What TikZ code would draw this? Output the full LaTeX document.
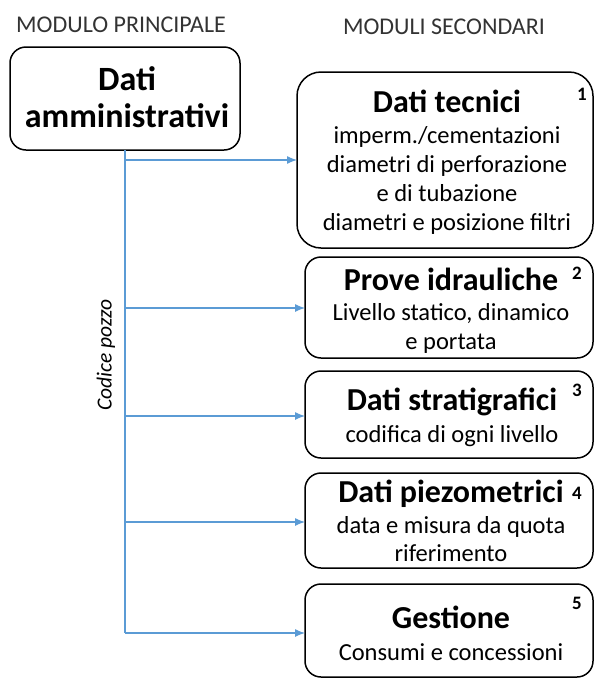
\documentclass[tikz,border=0pt]{standalone}
\usepackage{fontspec}
\setmainfont{Carlito}
\usetikzlibrary{arrows.meta}
\definecolor{linkblue}{RGB}{91,155,213}
\begin{document}
\begin{tikzpicture}[x=1pt,y=-1pt,
  box/.style={draw=black,line width=1.5pt,rounded corners=16pt},
  ttl/.style={font=\fontsize{32}{36}\selectfont\bfseries,anchor=base,inner sep=0pt},
  body/.style={font=\fontsize{24.5}{29}\selectfont,anchor=base,inner sep=0pt},
  hdr/.style={font=\fontsize{24}{28}\selectfont,text=black!80,anchor=base,inner sep=0pt},
  num/.style={font=\fontsize{19}{21}\selectfont\bfseries},
  link/.style={draw=linkblue,line width=1.2pt},
  arr/.style={link,-{Latex[length=10pt,width=8pt]}}]
\useasboundingbox (0,0) rectangle (595,678);
\node[hdr] (h1) at (121,32) {MODULO PRINCIPALE};
\node[hdr] (h2) at (444,34) {MODULI SECONDARI};
% main box
\draw[box] (10,47) rectangle (240,150);
\node[font=\fontsize{34}{37}\selectfont\bfseries,anchor=base,inner sep=0pt] (m1) at (127,90) {Dati};
\node[font=\fontsize{34}{37}\selectfont\bfseries,anchor=base,inner sep=0pt] (m2) at (127,127) {amministrativi};
\coordinate (mb) at (125,150);
% box 1
\draw[box,rounded corners=24pt] (297,72) rectangle (593,248);
\node[ttl] (t1) at (447,112) {Dati tecnici};
\node[body] (b1a) at (447,143) {imperm./cementazioni};
\node[body] (b1b) at (447,172) {diametri di perforazione};
\node[body] (b1c) at (447,201) {e di tubazione};
\node[body] (b1d) at (447,230) {diametri e posizione filtri};
\node[num] (n1) at (582,94) {1};
% box 2
\draw[box] (305,257) rectangle (593,358);
\node[ttl] (t2) at (451,290) {Prove idrauliche};
\node[body] (b2a) at (451,320) {Livello statico, dinamico};
\node[body] (b2b) at (451,349) {e portata};
\node[num] (n2) at (577,273) {2};
% box 3
\draw[box] (305,371) rectangle (593,458);
\node[ttl] (t3) at (452,410) {Dati stratigrafici};
\node[body] (b3a) at (452,442) {codifica di ogni livello};
\node[num] (n3) at (577,390) {3};
% box 4
\draw[box] (305,473) rectangle (593,568);
\node[ttl] (t4) at (451,502) {Dati piezometrici};
\node[body] (b4a) at (451,533) {data e misura da quota};
\node[body] (b4b) at (451,561) {riferimento};
\node[num] (n4) at (577,493) {4};
% box 5
\draw[box] (305,584) rectangle (593,677);
\node[ttl] (t5) at (451,628) {Gestione};
\node[body] (b5a) at (451,660) {Consumi e concessioni};
\node[num] (n5) at (577,603) {5};
% connectors
\coordinate (c1) at (125,160);
\coordinate (c2) at (125,308);
\coordinate (c3) at (125,416);
\coordinate (c4) at (125,522);
\coordinate (c5) at (125,633);
\coordinate (e1) at (297,160);
\coordinate (e2) at (305,308);
\coordinate (e3) at (305,416);
\coordinate (e4) at (305,522);
\coordinate (e5) at (305,633);
\draw[link] (mb) -- (c5);
\draw[arr] (c1) -- (e1);
\draw[arr] (c2) -- (e2);
\draw[arr] (c3) -- (e3);
\draw[arr] (c4) -- (e4);
\draw[arr] (c5) -- (e5);
\node[font=\fontsize{21.5}{24}\selectfont\itshape,rotate=90] (cp) at (106,355) {Codice pozzo};
\end{tikzpicture}
\end{document}
